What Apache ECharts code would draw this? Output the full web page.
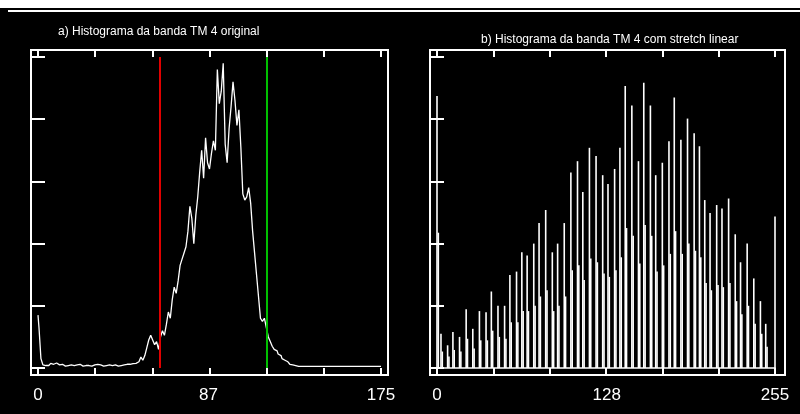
<!DOCTYPE html>
<html>
<head>
<meta charset="utf-8">
<script src="https://cdn.jsdelivr.net/npm/echarts@6/dist/echarts.min.js"></script>
<style>
  html, body { margin: 0; padding: 0; background: #000; }
  #chart { width: 800px; height: 414px; }
</style>
</head>
<body>
<div id="chart"></div>
<script>
  // a) histograma original, um valor por nivel de cinza 0..175
  var leftCounts = [
    17, 13, 3, 1, 0.8, 0.8, 1, 1.5, 1.2, 1.6,
    1.4, 1, 1.2, 0.8, 0.6, 0.8, 0.6, 1, 0.8, 0.6,
    1, 1.2, 0.8, 0.6, 0.8, 1, 0.8, 0.6, 0.8, 1,
    1.2, 0.8, 1, 0.6, 1, 0.8, 1, 0.6, 0.8, 1,
    0.8, 0.6, 0.8, 1, 1, 1.2, 1, 1.2, 1.4, 1.2,
    1.5, 2, 2.5, 3.5, 2.5, 4, 6.5, 9, 10.5, 9,
    7.5, 8.5, 6, 10, 12, 10.5, 14, 18, 16, 22,
    26, 24, 28, 33, 35, 37, 39, 44, 52, 48,
    40, 49, 55, 63, 70, 61, 74, 66, 64, 69,
    73, 70, 96, 85, 89, 98, 72, 66, 77, 84,
    92, 86, 78, 83, 71, 56, 54, 55, 58, 53,
    44, 37, 30, 23, 16, 15, 16, 13, 10, 8.5,
    7, 6, 5.5, 4.5, 4, 3, 2.5, 2, 1.5, 1.2,
    1, 0.8, 0.5, 0.5, 0.5, 0.5, 0.5, 0.5, 0.5, 0.5,
    0.5, 0.5, 0.5, 0.5, 0.5, 0.5, 0.5, 0.5, 0.5, 0.5,
    0.5, 0.5, 0.5, 0.5, 0.5, 0.5, 0.5, 0.5, 0.5, 0.5,
    0.5, 0.5, 0.5, 0.5, 0.5, 0.5, 0.5, 0.5, 0.5, 0.5,
    0.5, 0.5, 0.5, 0.5, 0.5, 0.5
  ];
  var redCut = 62;
  var greenCut = 116.5;

  // b) histograma com stretch linear: so os niveis ocupados
  var rightBins = [
    0, 1, 3, 4, 8, 9, 12, 13, 17, 18, 22, 23, 27, 28, 32, 33, 37, 38,
    41, 42, 46, 47, 51, 52, 55, 56, 60, 61, 64, 65, 68, 69, 73, 74,
    77, 78, 82, 83, 87, 88, 91, 92, 96, 97, 101, 102, 106, 107, 110, 111,
    115, 116, 120, 121, 125, 126, 129, 130, 134, 135, 138, 139, 142, 143,
    147, 148, 152, 153, 156, 157, 161, 162, 165, 166, 170, 171, 175, 176,
    179, 180, 184, 185, 189, 190, 194, 195, 198, 199, 202, 203, 206, 207,
    211, 212, 215, 216, 220, 221, 225, 226, 229, 230, 234, 235, 239, 240,
    244, 245, 248, 249, 255
  ];
  var rightCounts = [
    87.5, 43.5, 11, 5.3, 7.3, 3.7, 11.6, 5.8, 10, 5.3, 18.9, 9.4, 12.6, 6.3, 18.3, 8.9, 17.9, 8.9,
    24.6, 12, 20, 10, 20, 9.4, 29.9, 14.7, 31, 14.7, 37.2, 18.3, 36.2, 18.3, 40, 20,
    46.6, 23, 50.8, 25, 37.2, 18.3, 40, 20, 46.6, 23, 62.9, 31.4, 66.5, 33, 56.6, 28.3,
    70.8, 35.2, 68.2, 34, 62, 30.4, 59.2, 29.3, 64, 31.4, 70.8, 35.6, 90.7, 45,
    84.4, 42.5, 66.5, 33.6, 91.7, 46, 84.4, 42.5, 62, 31, 66, 33, 72.9, 36.7,
    87, 44, 73.4, 36.7, 80.2, 40, 75.5, 37.7, 71.3, 35.6, 54, 27.3, 49.8, 25,
    52.4, 26.7, 51.3, 26, 54.5, 27.3, 43, 21.5, 34, 17.3, 40, 20, 28.8, 14.2,
    21.5, 11, 14.2, 6.8, 48.7
  ];

  var leftLabels = [0, 87, 175];
  var rightLabels = [0, 128, 255];
  var leftTitle = 'a) Histograma da banda TM 4 original';
  var rightTitle = 'b) Histograma da banda TM 4 com stretch linear';

  var leftData = leftCounts.map(function (v, i) { return [i, v]; });
  var rightData = rightBins.map(function (b, k) { return [b, rightCounts[k]]; });

  var tickStyle = { show: true, inside: false, length: 7, lineStyle: { color: '#fff', width: 2 } };
  var labelFont = { color: '#fff', fontFamily: 'Liberation Sans Narrow, Liberation Sans', fontSize: 17, margin: 19 };
  var titleFont = { color: '#fff', fontSize: 12, fontWeight: 'normal', fontFamily: 'Liberation Sans' };

  function xAx(grid, max, interval, labels, pos, baseline) {
    return {
      type: 'value', gridIndex: grid, position: pos, min: 0, max: max, interval: interval,
      axisLine: { show: !!baseline, onZero: false, lineStyle: { color: '#fff', width: 1.5 } },
      splitLine: { show: false },
      axisTick: tickStyle,
      axisLabel: labels ? Object.assign({ show: true, customValues: labels }, labelFont) : { show: false }
    };
  }
  function yAx(grid, pos) {
    return {
      type: 'value', gridIndex: grid, position: pos, min: 0, max: 100, interval: 20,
      axisLine: { show: false }, splitLine: { show: false },
      axisTick: tickStyle, axisLabel: { show: false }
    };
  }

  var chart = echarts.init(document.getElementById('chart'));
  chart.setOption({
    backgroundColor: '#000',
    animation: false,
    title: [
      { text: leftTitle, left: 53, top: 21, textStyle: titleFont },
      { text: rightTitle, left: 476, top: 29, textStyle: titleFont }
    ],
    graphic: [
      { type: 'rect', shape: { x: 0, y: 0, width: 800, height: 8 }, style: { fill: '#fff' } },
      { type: 'line', shape: { x1: 8, y1: 11, x2: 800, y2: 11 }, style: { stroke: '#fff', lineWidth: 2 } },
      { type: 'rect', shape: { x: 31, y: 50, width: 357, height: 325 }, style: { fill: null, stroke: '#fff', lineWidth: 2 } },
      { type: 'rect', shape: { x: 430, y: 50, width: 355, height: 325 }, style: { fill: null, stroke: '#fff', lineWidth: 2 } }
    ],
    grid: [
      { left: 38, top: 57, width: 343, height: 311 },
      { left: 437, top: 57, width: 338, height: 311 }
    ],
    xAxis: [
      xAx(0, 175, 175 / 6, leftLabels, 'bottom', false),
      xAx(0, 175, 175 / 6, null, 'top', false),
      xAx(1, 255, 42.5, rightLabels, 'bottom', true),
      xAx(1, 255, 42.5, null, 'top', false)
    ],
    yAxis: [yAx(0, 'left'), yAx(0, 'right'), yAx(1, 'left'), yAx(1, 'right')],
    series: [
      {
        type: 'line', xAxisIndex: 0, yAxisIndex: 0, step: 'middle', showSymbol: false,
        lineStyle: { color: '#fff', width: 1.3 }, data: leftData,
        markLine: {
          silent: true, symbol: 'none', label: { show: false },
          data: [
            { xAxis: redCut, lineStyle: { color: '#e00000', width: 2, type: 'solid' } },
            { xAxis: greenCut, lineStyle: { color: '#00c000', width: 2, type: 'solid' } }
          ]
        }
      },
      {
        type: 'bar', xAxisIndex: 2, yAxisIndex: 2, barWidth: 1.6,
        itemStyle: { color: '#fff' }, data: rightData
      }
    ]
  });
</script>
</body>
</html>
